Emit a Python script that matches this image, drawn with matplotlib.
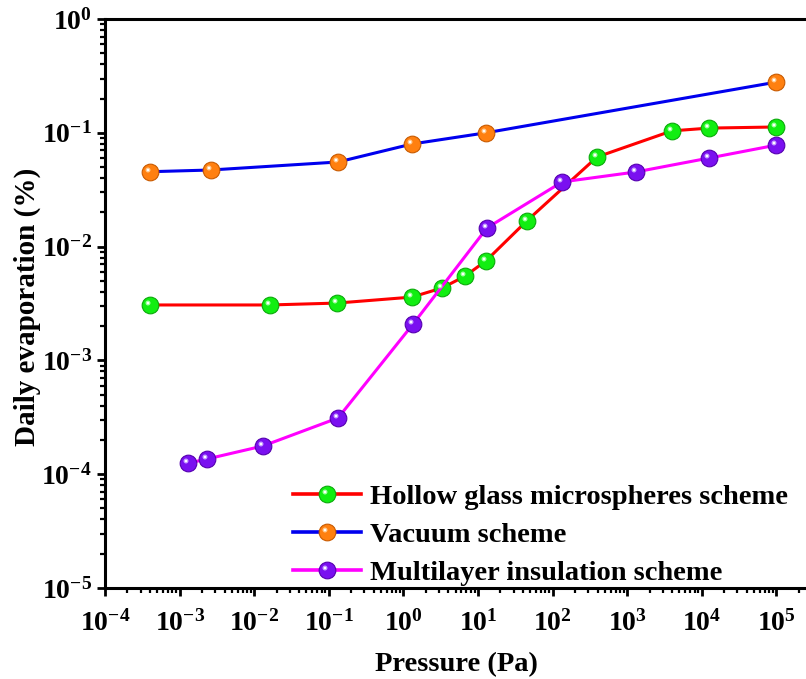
import numpy as np
import matplotlib
matplotlib.use('Agg')
import matplotlib.pyplot as plt
from matplotlib.path import Path
from matplotlib.lines import Line2D
from matplotlib.ticker import LogLocator, FuncFormatter, NullFormatter

plt.rcParams['font.family'] = 'Liberation Serif'
plt.rcParams['font.weight'] = 'bold'
plt.rcParams['mathtext.fontset'] = 'custom'
plt.rcParams['mathtext.rm'] = 'Liberation Serif:bold'
plt.rcParams['mathtext.bf'] = 'Liberation Serif:bold'

# pressure (Pa) and daily evaporation (%) for each scheme
p_hollow = [4e-4, 0.0163, 0.129, 1.3, 3.3, 6.7, 12.8, 45, 394, 3980, 12500, 1e5]
e_hollow = [3.07e-3, 3.07e-3, 3.19e-3, 3.6e-3, 4.33e-3, 5.5e-3, 7.5e-3, 0.0168, 0.0613, 0.104, 0.110, 0.1125]

p_vacuum = [4e-4, 2.6e-3, 0.133, 1.3, 12.8, 1e5]
e_vacuum = [0.0455, 0.0471, 0.0554, 0.0797, 0.100, 0.279]

p_mli = [1.3e-3, 2.33e-3, 0.0131, 0.133, 1.35, 13.2, 134, 1312, 12500, 1e5]
e_mli = [1.25e-4, 1.36e-4, 1.77e-4, 3.12e-4, 2.09e-3, 0.0146, 0.037, 0.0453, 0.060, 0.078]

labels = ['Hollow glass microspheres scheme', 'Vacuum scheme', 'Multilayer insulation scheme']


def spot(a, r):
    # small circle shifted up-left inside the marker box, used as a glossy highlight
    c = Path.circle((-a, a), r)
    return Path(c.vertices, c.codes)


glint = spot(1.0, 1.0)
sparkle = spot(1.0, 0.5)

# line colour, ball colour, ball edge, highlight
styles = [
    ('#FF0000', '#11EE11', '#0BAA0B', '#9CFF9C'),
    ('#0000EE', '#FF8010', '#C85A00', '#FFC78A'),
    ('#FF00FF', '#7A10F0', '#5500B0', '#C39BFF'),
]


def sphere_layers(style, ms):
    line_c, ball_c, edge_c, light_c = style
    base = dict(color=line_c, marker='o', ms=ms, mfc=ball_c, mec=edge_c, mew=0.8)
    hi = dict(ls='none', marker=glint, ms=ms * 0.6, mfc=light_c, mec='none')
    dot = dict(ls='none', marker=sparkle, ms=ms * 0.45, mfc='white', mec='none')
    return base, hi, dot


def sphere_series(ax, x, y, style):
    base, hi, dot = sphere_layers(style, 12)
    ax.plot(x, y, '-', lw=2.2, zorder=3, **base)
    ax.plot(x, y, zorder=4, **hi)
    ax.plot(x, y, zorder=5, **dot)


def legend_handle(style):
    base, hi, dot = sphere_layers(style, 12)
    return (Line2D([], [], lw=2.6, **base), Line2D([], [], **hi), Line2D([], [], **dot))


def decade_label(v, pos):
    if v > 1.5e5:
        return ''
    return r'$\mathbf{10^{%d}}$' % int(round(np.log10(v)))


fig = plt.figure(figsize=(8.06, 6.79), dpi=100)
ax = fig.add_axes([105 / 806, 1 - 588 / 679, 746 / 806, 569 / 679])

sphere_series(ax, p_hollow, e_hollow, styles[0])
sphere_series(ax, p_vacuum, e_vacuum, styles[1])
sphere_series(ax, p_mli, e_mli, styles[2])

ax.set_xscale('log')
ax.set_yscale('log')
ax.set_xlim(1e-4, 1e6)
ax.set_ylim(1e-5, 1e0)

ax.xaxis.set_major_locator(LogLocator(base=10, numticks=20))
ax.yaxis.set_major_locator(LogLocator(base=10, numticks=20))
ax.xaxis.set_minor_locator(LogLocator(base=10, subs=np.arange(2, 10), numticks=20))
ax.yaxis.set_minor_locator(LogLocator(base=10, subs=np.arange(2, 10), numticks=20))
ax.xaxis.set_major_formatter(FuncFormatter(decade_label))
ax.yaxis.set_major_formatter(FuncFormatter(decade_label))
ax.xaxis.set_minor_formatter(NullFormatter())
ax.yaxis.set_minor_formatter(NullFormatter())

for s in ['left', 'bottom', 'top']:
    ax.spines[s].set_linewidth(2.2)
ax.spines['right'].set_visible(False)
ax.tick_params(which='major', direction='out', length=6, width=2, labelsize=20,
               top=False, right=False)
ax.tick_params(axis='x', which='major', pad=10)
ax.tick_params(which='minor', direction='out', length=3.5, width=1.6, top=False, right=False)

ax.set_xlabel('Pressure (Pa)', fontsize=20.5, fontweight='bold')
ax.set_ylabel('Daily evaporation (%)', fontsize=21, fontweight='bold')
ax.xaxis.set_label_coords((456 - 105) / 746, -0.112)
ax.yaxis.set_label_coords((41 - 105) / 746, (588 - 307) / 569)

ax.legend([legend_handle(s) for s in styles], labels, loc='lower left',
          bbox_to_anchor=(293 / 806, 1 - 586 / 679), bbox_transform=fig.transFigure,
          frameon=False, fontsize=20.5, handlelength=2.4, handletextpad=0.3,
          labelspacing=0.42, borderaxespad=0, borderpad=0)

fig.savefig('out.png', dpi=100)
